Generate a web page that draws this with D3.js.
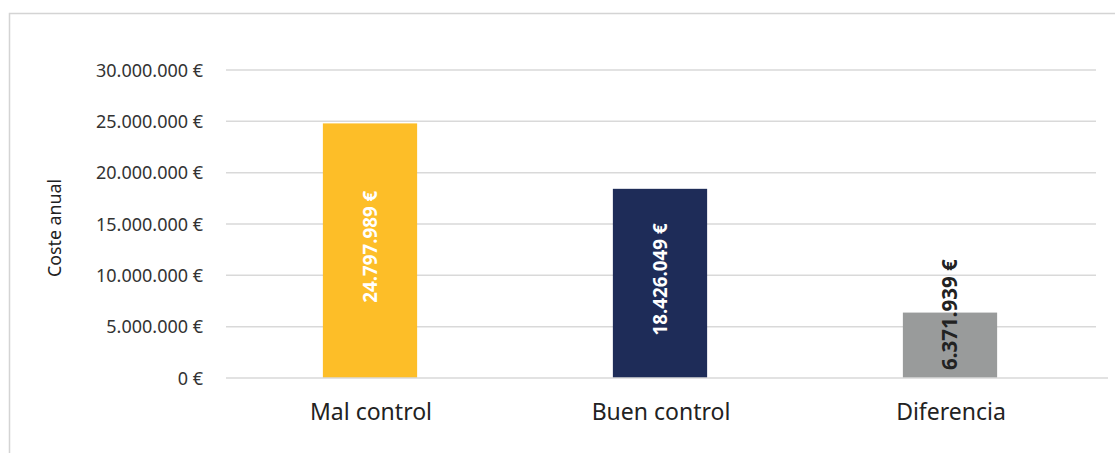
<!DOCTYPE html>
<html><head><meta charset="utf-8">
<script src="https://cdn.jsdelivr.net/npm/d3@7"></script>
<style>
html,body{margin:0;padding:0;background:#fff;}
svg{display:block;font-family:"Noto Sans",Lato,sans-serif;}
</style></head>
<body>
<svg id="chart" width="1115" height="453"></svg>
<script>
const categories = ["Mal control", "Buen control", "Diferencia"];
const values = [24797989, 18426049, 6371939];
const valueLabels = ["24.797.989 €", "18.426.049 €", "6.371.939 €"];
const barColors = ["#FDBE28", "#1E2C58", "#999B9B"];
const labelColors = ["#ffffff", "#ffffff", "#222222"];
const tickValues = [0, 5000000, 10000000, 15000000, 20000000, 25000000, 30000000];
const tickLabels = ["0 €", "5.000.000 €", "10.000.000 €", "15.000.000 €", "20.000.000 €", "25.000.000 €", "30.000.000 €"];
const yTitle = "Coste anual";

(function(){
const FONT = "'Noto Sans',Lato,sans-serif";
const svg = d3.select("#chart");
const mLeft = 226, mRight = 1096, mTop = 70, mBottom = 378;

// frame
svg.append("path").attr("d", "M9.5,460 V13.5 H1120").attr("fill","none").attr("stroke","#d4d4d4").attr("stroke-width",1.5);

const x = d3.scaleBand().domain(categories).range([mLeft, mRight]).paddingInner(0).paddingOuter(0);
const y = d3.scaleLinear().domain([0, 30000000]).range([mBottom, mTop]);

// gridlines
svg.append("g").selectAll("line").data(tickValues.filter(v => v > 0)).join("line")
  .attr("x1", mLeft).attr("x2", mRight)
  .attr("y1", d => y(d)).attr("y2", d => y(d))
  .attr("stroke", "#d9d9d9").attr("stroke-width", 1.5);

// y axis tick labels
const yAxis = d3.axisLeft(y).tickValues(tickValues).tickSize(0).tickPadding(0)
  .tickFormat((d, i) => tickLabels[i]);
const gy = svg.append("g").attr("transform", `translate(203,0)`).call(yAxis);
gy.select(".domain").remove();
gy.selectAll("text").attr("font-size", 18).attr("fill", "#333").attr("font-family", FONT).attr("dy", "0.35em");

// bars
const bw = x.bandwidth() * 0.325;
svg.append("g").selectAll("rect").data(categories).join("rect")
  .attr("x", d => x(d) + x.bandwidth()/2 - bw/2 - 1)
  .attr("width", bw)
  .attr("y", (d, i) => y(values[i]))
  .attr("height", (d, i) => y(0) - y(values[i]))
  .attr("fill", (d, i) => barColors[i]);

// baseline (x axis)
svg.append("line").attr("x1", mLeft).attr("x2", 1108).attr("y1", y(0)).attr("y2", y(0))
  .attr("stroke", "#d9d9d9").attr("stroke-width", 1.5);

// value labels
svg.append("g").selectAll("text").data(categories).join("text")
  .attr("transform", (d, i) => {
    const cx = x(d) + x.bandwidth()/2 - 1;
    const cy = i < 2 ? (y(values[i]) + y(0)) / 2 - 4 : y(0) - 8;
    return `translate(${cx},${cy}) rotate(-90)`;
  })
  .attr("text-anchor", (d, i) => i < 2 ? "middle" : "start").attr("dy", "0.36em")
  .attr("font-size", (d, i) => i < 2 ? 18.8 : 20.5).attr("font-weight", "bold").attr("font-family", FONT)
  .attr("fill", (d, i) => labelColors[i])
  .text((d, i) => valueLabels[i]);

// category labels
const xAxis = d3.axisBottom(x).tickSize(0).tickPadding(0);
const gx = svg.append("g").attr("transform", `translate(0,${mBottom})`).call(xAxis);
gx.select(".domain").remove();
gx.selectAll("text").attr("font-size", 23).attr("fill", "#222").attr("font-family", FONT)
  .attr("dy", null).attr("y", 42);

// y title
svg.append("text").attr("transform", "translate(61,228) rotate(-90)")
  .attr("text-anchor", "middle").attr("font-size", 17.8).attr("fill", "#222").attr("font-family", FONT)
  .text(yTitle);
})();
</script>
</body></html>
